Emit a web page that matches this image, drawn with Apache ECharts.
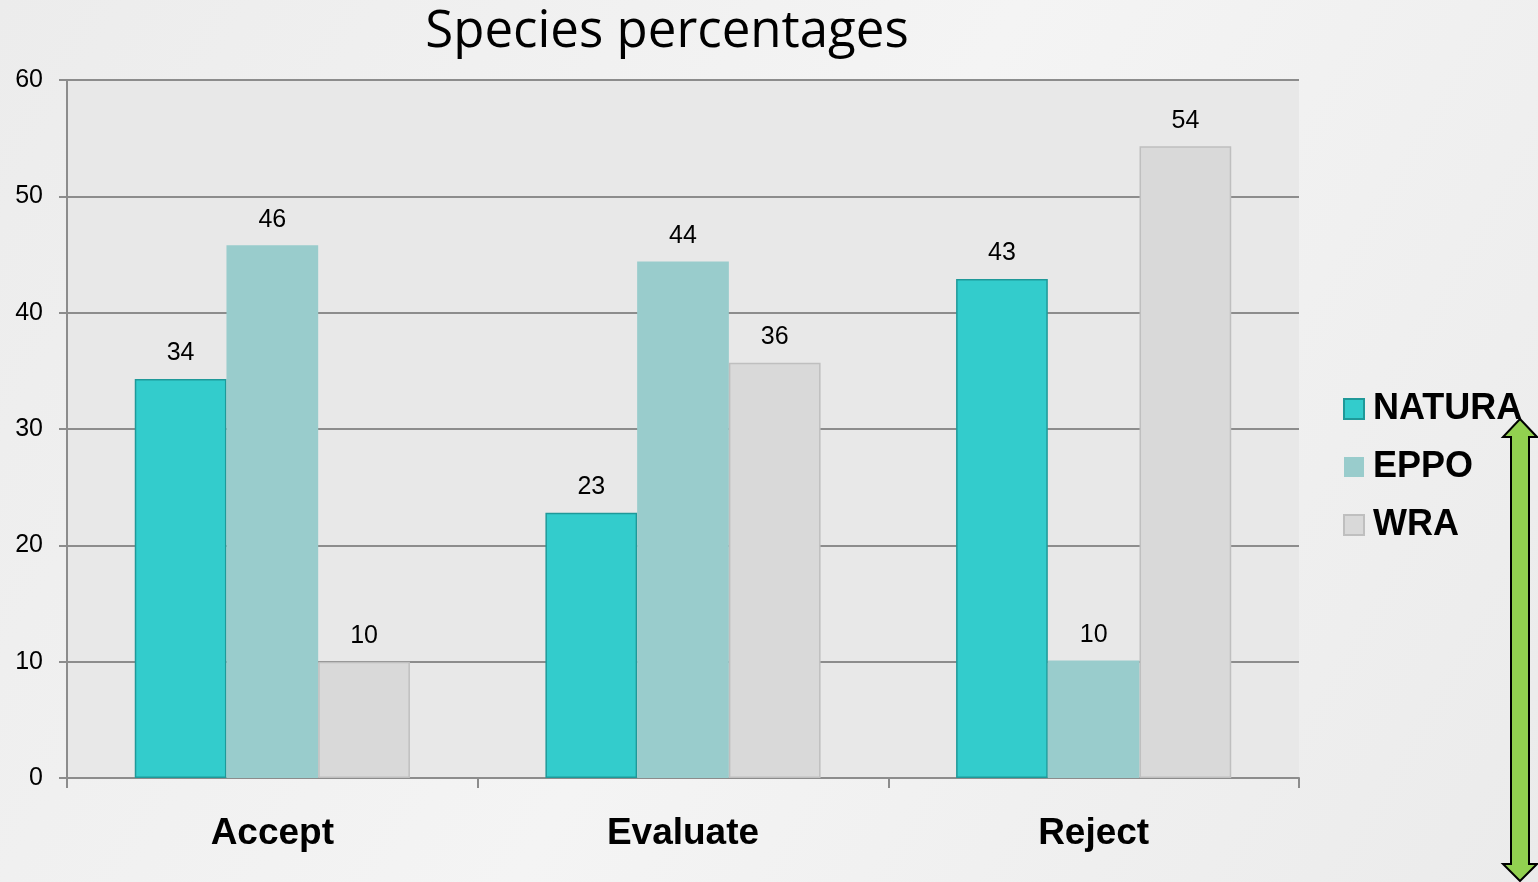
<!DOCTYPE html>
<html>
<head>
<meta charset="utf-8">
<script src="https://cdn.jsdelivr.net/npm/echarts@6/dist/echarts.min.js"></script>
<style>
  html, body { margin: 0; padding: 0; }
  #chart { width: 1538px; height: 882px; }
</style>
</head>
<body>
<div id="chart"></div>
<script>
const categories = ["Accept", "Evaluate", "Reject"];
const natura = [34.3, 22.8, 42.9];
const eppo = [45.8, 44.4, 10.1];
const wra = [10.0, 35.7, 54.3];

const chart = echarts.init(document.getElementById("chart"));

const labelStyle = {
  show: true,
  position: "top",
  distance: 13,
  color: "#000",
  fontSize: 25,
  fontFamily: "Liberation Sans, Arial",
  formatter: (p) => Math.round(p.value),
};

const option = {
  backgroundColor: new echarts.graphic.LinearGradient(0, 0, 1, 1, [
    { offset: 0, color: "#ececec" },
    { offset: 0.5, color: "#f4f4f4" },
    { offset: 1, color: "#ebebeb" },
  ]),
  animation: false,
  title: {
    text: "Species percentages",
    left: 662,
    top: 2,
    textAlign: "center",
    textStyle: {
      fontFamily: "Open Sans",
      fontWeight: "normal",
      fontSize: 51,
      color: "#000",
    },
  },
  legend: {
    orient: "vertical",
    left: 1343,
    top: 391,
    padding: 0,
    icon: "rect",
    itemWidth: 20,
    itemHeight: 20,
    itemGap: 22,
    textStyle: {
      fontFamily: "Liberation Sans, Arial",
      fontWeight: "bold",
      fontSize: 36,
      color: "#000",
      padding: [0, 0, 0, 4],
    },
  },
  grid: {
    left: 67,
    right: 239,
    top: 80,
    bottom: 104,
    show: true,
    backgroundColor: "#e8e8e8",
    borderWidth: 0,
  },
  xAxis: {
    type: "category",
    data: categories,
    axisLine: { lineStyle: { color: "#8c8c8c", width: 2 } },
    axisTick: { show: true, length: 10, lineStyle: { color: "#8c8c8c", width: 2 } },
    axisLabel: {
      color: "#000",
      fontFamily: "Liberation Sans, Arial",
      fontWeight: "bold",
      fontSize: 37,
      margin: 37,
    },
  },
  yAxis: {
    type: "value",
    min: 0,
    max: 60,
    interval: 10,
    axisLine: { show: true, lineStyle: { color: "#8c8c8c", width: 2 } },
    axisTick: { show: true, inside: false, length: 8, lineStyle: { color: "#8c8c8c", width: 2 } },
    splitLine: { lineStyle: { color: "#8c8c8c", width: 2 } },
    axisLabel: {
      color: "#000",
      fontFamily: "Liberation Sans, Arial",
      fontSize: 25,
      margin: 24,
    },
  },
  series: [
    {
      name: "NATURA",
      type: "bar",
      data: natura,
      barGap: "0%",
      barCategoryGap: "33%",
      itemStyle: { color: "#33cccc", borderColor: "#1f9999", borderWidth: 1.5 },
      label: labelStyle,
    },
    {
      name: "EPPO",
      type: "bar",
      data: eppo,
      itemStyle: { color: "#99cccc" },
      label: labelStyle,
    },
    {
      name: "WRA",
      type: "bar",
      data: wra,
      itemStyle: { color: "#d9d9d9", borderColor: "#bfbfbf", borderWidth: 1.5 },
      label: labelStyle,
    },
  ],
  graphic: [
    {
      type: "polygon",
      z: 100,
      shape: {
        points: [
          [1520, 419],
          [1537, 437],
          [1529, 437],
          [1529, 864],
          [1537, 864],
          [1520, 881],
          [1503, 864],
          [1511, 864],
          [1511, 437],
          [1503, 437],
        ],
      },
      style: { fill: "#92d050", stroke: "#000", lineWidth: 2 },
    },
  ],
};

chart.setOption(option);
</script>
</body>
</html>
